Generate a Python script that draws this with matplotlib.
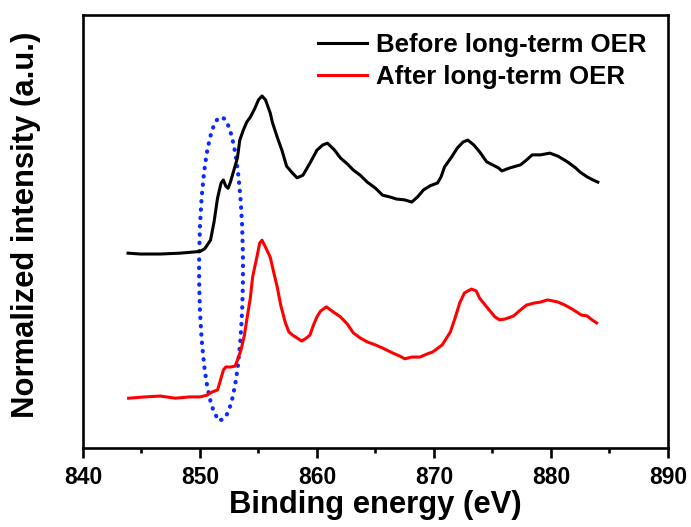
import matplotlib
matplotlib.use("Agg")
import matplotlib.pyplot as plt
from matplotlib.patches import Ellipse
from matplotlib.ticker import MultipleLocator

plt.rcParams['font.family'] = ['Liberation Sans', 'DejaVu Sans']
plt.rcParams['font.weight'] = 'bold'

# Binding energy (eV) and normalized intensity (a.u.)
before_energy = [843.85, 844.9, 846.6, 848.3, 849.6, 850.0, 850.4, 850.9, 851.2, 851.5,
                 851.8, 852.0, 852.2, 852.4, 852.6, 852.9, 853.2, 853.4, 853.7, 854.0,
                 854.3, 854.7, 855.0, 855.3, 855.6, 856.0, 856.2, 856.6, 857.0, 857.4,
                 857.9, 858.3, 858.8, 859.4, 860.0, 860.5, 860.9, 861.5, 862.0, 862.6,
                 863.1, 863.7, 864.3, 865.0, 865.6, 866.2, 866.8, 867.5, 868.1, 868.6,
                 869.1, 869.7, 870.3, 870.6, 870.9, 871.5, 872.0, 872.5, 872.9, 873.4,
                 873.9, 874.5, 875.0, 875.5, 875.8, 876.5, 877.4, 877.9, 878.4, 879.1,
                 879.9, 880.6, 881.4, 882.1, 882.5, 883.1, 883.6, 884.0]
before_intensity = [45.0, 44.8, 44.8, 45.0, 45.3, 45.4, 46.0, 48.0, 52.2, 57.7,
                    61.2, 61.9, 60.5, 60.0, 61.4, 64.2, 67.0, 71.1, 73.4, 75.3,
                    76.4, 78.5, 80.4, 81.3, 80.4, 77.4, 75.1, 71.8, 68.8, 65.1,
                    63.5, 62.4, 63.0, 65.8, 68.8, 70.0, 70.4, 68.8, 67.0, 65.6,
                    64.2, 63.0, 61.4, 60.0, 58.4, 58.0, 57.5, 57.3, 56.8, 58.0,
                    59.6, 60.6, 61.2, 62.6, 64.9, 67.2, 69.3, 70.7, 71.1, 70.0,
                    68.4, 66.1, 65.4, 64.7, 64.0, 64.7, 65.4, 66.5, 67.7, 67.7,
                    68.1, 67.4, 66.1, 64.7, 63.7, 62.6, 61.9, 61.4]

after_energy = [843.9, 845.3, 846.6, 847.9, 849.1, 850.0, 850.6, 851.0, 851.5, 851.7,
                852.0, 852.2, 852.6, 853.0, 853.2, 853.5, 853.8, 854.0, 854.3, 854.5,
                854.9, 855.1, 855.3, 855.6, 856.0, 856.3, 856.6, 856.9, 857.3, 857.6,
                857.9, 858.3, 858.7, 859.1, 859.4, 859.7, 860.0, 860.3, 860.8, 861.4,
                862.0, 862.6, 863.1, 863.7, 864.3, 865.0, 865.6, 866.5, 867.1, 867.5,
                868.1, 868.8, 869.4, 869.9, 870.7, 871.4, 871.8, 872.2, 872.6, 873.2,
                873.6, 873.9, 874.5, 875.2, 875.6, 876.1, 876.8, 877.4, 877.9, 878.6,
                879.1, 879.7, 880.1, 880.6, 881.2, 881.8, 882.2, 882.6, 883.1, 883.5,
                883.9]
after_intensity = [11.5, 11.8, 12.0, 11.5, 11.8, 11.8, 12.2, 12.9, 13.4, 15.2,
                   18.0, 18.7, 18.7, 18.9, 20.3, 22.6, 26.1, 29.6, 34.6, 39.5,
                   44.6, 47.3, 48.0, 46.4, 44.1, 40.6, 37.2, 33.0, 28.9, 26.8,
                   26.1, 25.4, 24.7, 25.4, 26.1, 28.4, 30.3, 31.6, 32.6, 31.4,
                   30.3, 28.6, 26.6, 25.4, 24.5, 23.8, 23.1, 21.9, 21.2, 20.6,
                   21.0, 21.0, 21.7, 22.2, 23.8, 26.8, 30.0, 33.5, 35.8, 36.7,
                   36.3, 34.6, 32.6, 30.3, 29.6, 29.8, 30.5, 31.9, 33.0, 33.5,
                   33.7, 34.2, 34.0, 33.7, 33.0, 32.1, 31.4, 30.7, 30.5, 29.6,
                   28.9]

series_labels = ["Before long-term OER", "After long-term OER"]
x_ticks = [840, 850, 860, 870, 880, 890]

# highlighted region (ellipse): centre energy, centre intensity, width, height
ellipse_center = (851.8, 41.45)
ellipse_size = (3.75, 69.9)

fig = plt.figure(figsize=(6.91, 5.27), dpi=100)
ax = fig.add_axes([0.1201, 0.1499, 0.8466, 0.8216])

ax.plot(before_energy, before_intensity, color='black', lw=2.2, label=series_labels[0])
ax.plot(after_energy, after_intensity, color='#ff0000', lw=2.2, label=series_labels[1])

ell = Ellipse(ellipse_center, ellipse_size[0], ellipse_size[1], fill=False,
              edgecolor='#0a2bff', lw=3.0, linestyle=(0, (0.1, 1.9)))
ell.set_capstyle('round')
ax.add_patch(ell)

ax.set_xlim(840, 890)
ax.set_ylim(0, 100)
ax.set_xticks(x_ticks)
ax.xaxis.set_minor_locator(MultipleLocator(5))
ax.set_yticks([])
for s in ax.spines.values():
    s.set_linewidth(1.9)
ax.tick_params(axis='x', which='major', direction='out', length=7, width=1.9,
               labelsize=16.5, pad=6)
ax.tick_params(axis='x', which='minor', direction='out', length=3.5, width=1.9)
for lab in ax.get_xticklabels():
    lab.set_fontweight('bold')

ax.set_xlabel("Binding energy (eV)", fontsize=22.3, fontweight='bold', labelpad=1)
ax.set_ylabel("Normalized intensity (a.u.)", fontsize=22.3, fontweight='bold')
ax.yaxis.set_label_coords(-0.072, 0.515)

leg = ax.legend(loc='upper left', bbox_to_anchor=(0.402, 0.958), frameon=False,
                prop={'size': 18.5, 'weight': 'bold'}, handlelength=1.9,
                handletextpad=0.35, labelspacing=0.3, borderpad=0, borderaxespad=0)
for h in leg.get_lines():
    h.set_linewidth(2.2)

fig.savefig("out.png", dpi=100)
